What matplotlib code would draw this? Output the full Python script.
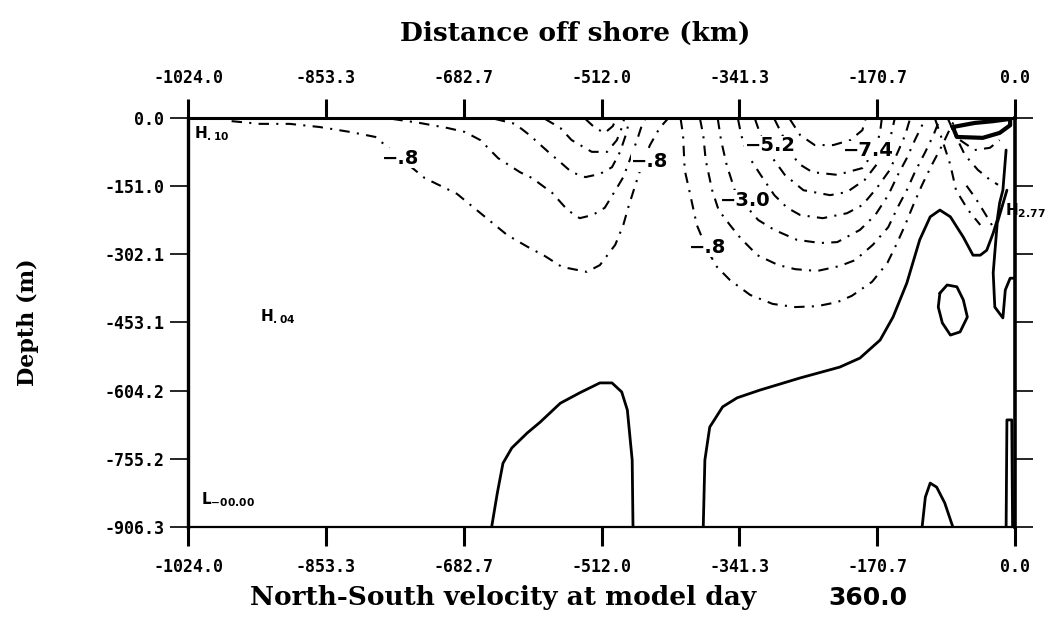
import matplotlib
matplotlib.use('Agg')
import matplotlib.pyplot as plt

# axis ticks (km offshore, depth in m)
x_ticks = [-1024.0, -853.3, -682.7, -512.0, -341.3, -170.7, 0.0]
x_labels = ['-1024.0', '-853.3', '-682.7', '-512.0', '-341.3', '-170.7', '0.0']
z_ticks = [0.0, -151.0, -302.1, -453.1, -604.2, -755.2, -906.3]
z_labels = ['0.0', '-151.0', '-302.1', '-453.1', '-604.2', '-755.2', '-906.3']

# --- negative (dashed) contours, western cell ---
left1_x = [-970, -935, -898, -861, -823, -792, -776, -761, -731, -691, -659, -629, -603, -582,
           -561, -530, -514, -495, -485, -479, -470, -462, -452, -440, -430]
left1_z = [-7, -13, -13, -20, -31, -42, -66, -89, -133, -168, -215, -259, -286, -306,
           -330, -341, -326, -281, -237, -199, -148, -104, -60, -22, -2]
left2_x = [-771, -737, -703, -681, -662, -640, -613, -598, -573, -554, -539, -523, -508, -493,
           -485, -477, -468, -462, -458]
left2_z = [-2, -11, -22, -31, -49, -89, -120, -133, -166, -204, -222, -215, -199, -155,
           -131, -93, -49, -16, -2]
left3_x = [-644, -619, -601, -578, -563, -549, -532, -514, -499, -489, -482, -477]
left3_z = [-2, -13, -38, -75, -98, -120, -131, -124, -109, -75, -38, -2]
left4_x = [-582, -563, -549, -524, -505, -493, -487, -484]
left4_z = [-2, -22, -49, -75, -75, -49, -22, -2]
left5_x = [-532, -520, -508, -498, -494]
left5_z = [-2, -22, -33, -18, -2]

# --- negative (dashed) contours, eastern cell ---
right1_x = [-414, -411, -409, -402, -394, -381, -369, -353, -328, -300, -272, -245, -220, -202,
            -177, -158, -146, -136, -126, -115, -103, -90, -80, -74]
right1_z = [-2, -38, -115, -171, -237, -293, -330, -359, -392, -412, -419, -417, -408, -394,
            -363, -321, -277, -237, -193, -148, -104, -60, -22, -2]
right2_x = [-390, -386, -383, -375, -367, -353, -340, -319, -293, -272, -245, -217, -198, -176,
            -157, -145, -134, -124, -111, -101, -93]
right2_z = [-2, -38, -93, -160, -204, -237, -266, -304, -326, -335, -339, -328, -315, -281,
            -242, -197, -160, -120, -75, -38, -2]
right3_x = [-368, -364, -357, -347, -334, -318, -298, -270, -241, -220, -192, -173, -157, -145,
            -134, -124, -115, -111]
right3_z = [-2, -49, -104, -160, -193, -226, -248, -270, -277, -275, -248, -215, -171, -126,
            -89, -49, -16, -2]
right4_x = [-343, -339, -331, -315, -298, -282, -266, -238, -208, -189, -171, -155, -145, -136, -130]
right4_z = [-2, -38, -82, -126, -171, -199, -215, -222, -211, -193, -155, -115, -75, -38, -2]
right5_x = [-322, -315, -303, -285, -262, -229, -208, -186, -167, -155, -149]
right5_z = [-2, -38, -82, -126, -160, -171, -164, -137, -93, -49, -2]
right6_x = [-298, -288, -269, -251, -220, -189, -173, -167, -165]
right6_z = [-2, -38, -100, -120, -126, -111, -71, -31, -2]
right7_x = [-279, -266, -248, -225, -204, -189, -185]
right7_z = [-2, -38, -60, -60, -49, -27, -2]

# --- nearshore dashed contours ---
shore1_x = [-99, -90, -80, -73, -58, -43]
shore1_z = [-2, -49, -104, -160, -204, -237]
shore2_x = [-83, -74, -62, -46, -31, -21]
shore2_z = [-2, -38, -82, -115, -137, -148]
shore3_x = [-68, -50, -31, -19]
shore3_z = [-49, -71, -66, -49]
shore4_x = [-60, -48, -36, -26]
shore4_z = [-150, -180, -215, -245]

# --- positive (solid) contours ---
main_x = [-386, -384, -378, -362, -344, -316, -266, -217, -192, -167, -151, -134, -118, -105,
          -93, -80, -64, -52, -43, -35, -27, -22, -19, -15, -11]
main_z = [-906, -758, -685, -640, -620, -603, -576, -552, -532, -492, -441, -366, -270, -219,
          -204, -219, -264, -304, -304, -293, -255, -226, -188, -160, -71]
dome_x = [-648, -641, -634, -623, -604, -588, -563, -539, -514, -499, -487, -480, -474, -473]
dome_z = [-906, -831, -765, -731, -698, -674, -632, -609, -587, -587, -607, -647, -758, -906]
ring_x = [-93, -84, -72, -64, -59, -68, -80, -90, -95, -93]
ring_z = [-388, -370, -374, -403, -441, -474, -481, -454, -419, -388]
bump_x = [-115, -111, -105, -97, -87, -77]
bump_z = [-906, -840, -809, -818, -853, -906]
edge_x = [-11, -10, -4, -3]
edge_z = [-906, -669, -669, -906]
loop_x = [-10, -22, -27, -25, -15, -12, -6, 0]
loop_z = [-160, -233, -343, -419, -443, -381, -355, -355]
cap_x = [-77, -50, -27, -6, -6, -19, -40, -72, -77]
cap_z = [-20, -11, -7, -2, -16, -33, -44, -42, -20]

fig = plt.figure(figsize=(10.45, 6.21), dpi=100)
ax = fig.add_axes([188 / 1045, 1 - 527 / 621, 827 / 1045, 409 / 621])

dash = (0, (5, 3.5, 1, 3.5))
dashed = [(left1_x, left1_z), (left2_x, left2_z), (left3_x, left3_z), (left4_x, left4_z),
          (left5_x, left5_z), (right1_x, right1_z), (right2_x, right2_z), (right3_x, right3_z),
          (right4_x, right4_z), (right5_x, right5_z), (right6_x, right6_z), (right7_x, right7_z),
          (shore1_x, shore1_z), (shore2_x, shore2_z), (shore3_x, shore3_z), (shore4_x, shore4_z)]
for xs, zs in dashed:
    ax.plot(xs, zs, color='black', lw=1.5, ls=dash)

solid = [(main_x, main_z), (dome_x, dome_z), (ring_x, ring_z), (bump_x, bump_z),
         (edge_x, edge_z), (loop_x, loop_z)]
for xs, zs in solid:
    ax.plot(xs, zs, color='black', lw=2.0, solid_capstyle='round')
ax.plot(cap_x, cap_z, color='black', lw=3.0)

# contour labels
lab = dict(fontsize=14, fontweight='bold', ha='center', va='center',
           bbox=dict(fc='white', ec='none', pad=0.3))
ax.text(-761, -89, '\u2212.8', **lab)
ax.text(-452, -97, '\u2212.8', **lab)
ax.text(-381, -286, '\u2212.8', **lab)
ax.text(-334, -182, '\u22123.0', **lab)
ax.text(-303, -62, '\u22125.2', **lab)
ax.text(-182, -72, '\u22127.4', **lab)

# extrema markers
mk = dict(fontsize=11, color='black', family='DejaVu Serif', clip_on=False)
ax.text(-1017, -45, r'$\mathbf{H}_{\mathbf{.10}}$', **mk)
ax.text(-935, -450, r'$\mathbf{H}_{\mathbf{.04}}$', **mk)
ax.text(-1008, -855, r'$\mathbf{L}_{\mathbf{-00.00}}$', **mk)
ax.text(-12, -215, r'$\mathbf{H}_{\mathbf{2.77}}$', **mk)

ax.set_xlim(-1024, 0)
ax.set_ylim(-906.3, 0)
ax.set_xticks(x_ticks)
ax.set_xticklabels(x_labels)
ax.set_yticks(z_ticks)
ax.set_yticklabels(z_labels)

ax.tick_params(axis='x', which='both', direction='out', length=14, width=2.2,
               top=True, labeltop=True, bottom=True, labelbottom=True, pad=8)
ax.tick_params(axis='y', which='both', direction='out', length=13, width=1.2,
               left=True, right=True, labelleft=True, labelright=False, pad=4)

# monospace bold tick labels on every side
for tick in ax.xaxis.get_major_ticks() + ax.yaxis.get_major_ticks():
    for t in (tick.label1, tick.label2):
        t.set_fontfamily('DejaVu Sans Mono')
        t.set_fontweight('bold')
        t.set_fontsize(12)

for side, w in [('left', 2.4), ('top', 2.2), ('right', 2.6), ('bottom', 1.6)]:
    ax.spines[side].set_linewidth(w)

fig.text(575 / 1045, 1 - 33 / 621, 'Distance off shore (km)', ha='center', va='center',
         family='DejaVu Serif', fontweight='bold', fontsize=19)
fig.text(28 / 1045, 1 - 322 / 621, 'Depth (m)', ha='center', va='center', rotation=90,
         family='DejaVu Serif', fontweight='bold', fontsize=16)
fig.text(503 / 1045, 1 - 598 / 621, 'North-South velocity at model day', ha='center',
         va='center', family='DejaVu Serif', fontweight='bold', fontsize=19)
fig.text(868 / 1045, 1 - 598 / 621, '360.0', ha='center', va='center',
         family='DejaVu Sans', fontweight='bold', fontsize=18)

fig.savefig('out.png', dpi=100)
